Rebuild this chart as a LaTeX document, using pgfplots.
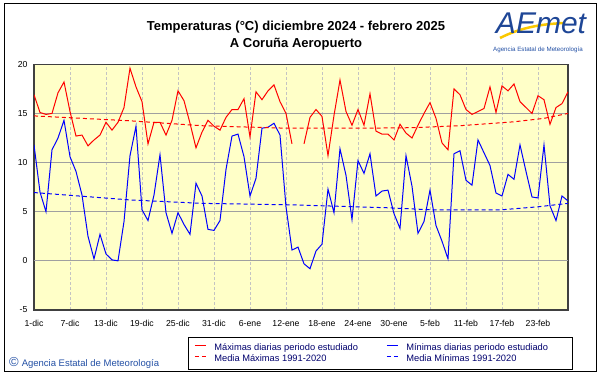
\documentclass[border=0pt]{standalone}
\usepackage{pgfplots}
\usepackage{pgfplotstable}
\pgfplotsset{compat=1.18}
\usepackage{fontspec}
\setmainfont{Liberation Sans}
\definecolor{bgy}{RGB}{255,255,200}
\definecolor{frm}{RGB}{64,64,64}
\definecolor{gridh}{RGB}{160,160,160}
\definecolor{gridv}{RGB}{195,195,195}
\definecolor{legblue}{RGB}{0,0,110}
\definecolor{cblue}{RGB}{35,80,165}
\definecolor{logoblue}{RGB}{30,70,150}
\definecolor{logoyel}{RGB}{250,200,0}

\pgfplotstableread{
d tmax tmin
0 16.9 11.8
1 15.1 7.0
2 14.9 5.0
3 15.0 11.3
4 17.1 12.5
5 18.2 14.3
6 15.2 10.6
7 12.7 9.1
8 12.8 6.7
9 11.7 2.5
10 12.3 0.2
11 12.8 2.7
12 14.1 0.7
13 13.3 0.1
14 14.1 0.0
15 15.6 4.0
16 19.6 10.7
17 17.7 13.7
18 16.2 5.2
19 11.9 4.1
20 14.1 6.7
21 14.1 10.8
22 12.8 4.9
23 14.3 2.8
24 17.3 4.9
25 16.3 3.7
26 14.0 2.7
27 11.5 7.9
28 13.1 6.6
29 14.3 3.2
30 13.7 3.1
31 13.3 4.1
32 14.6 9.3
33 15.4 12.7
34 15.4 12.9
35 16.5 10.6
36 12.6 6.6
37 17.2 8.4
38 16.4 13.5
39 17.3 13.6
40 17.9 14.0
41 16.2 12.8
42 15.0 5.5
43 11.9 1.1
44 nan 1.4
45 11.9 -0.3
46 14.6 -0.8
47 15.4 1.0
48 14.7 1.7
49 10.7 7.3
50 14.8 4.9
51 18.4 11.4
52 15.2 8.7
53 13.8 4.2
54 15.4 10.2
55 13.8 8.9
56 17.0 10.9
57 13.2 6.6
58 12.9 7.1
59 12.9 7.2
60 12.3 4.8
61 13.9 3.3
62 13.0 10.7
63 12.5 7.6
64 13.8 2.8
65 15.0 4.0
66 16.1 7.2
67 14.5 3.6
68 12.0 2.0
69 11.3 0.2
70 17.5 10.9
71 16.9 11.2
72 15.4 8.2
73 14.9 7.7
74 15.2 12.3
75 15.5 11.0
76 17.7 9.7
77 15.1 6.9
78 17.8 6.6
79 17.3 8.8
80 18.0 8.3
81 16.2 11.8
82 15.6 9.1
83 15.0 6.5
84 16.8 6.4
85 16.4 11.8
86 13.9 5.6
87 15.6 4.1
88 16.0 6.6
89 17.2 6.1
}\daily

\pgfplotstableread{
d mmax
0 14.75
16 14.25
28 13.75
42 13.5
55 13.5
63 13.55
71 13.75
80 14.15
85 14.5
89 15.0
}\meanmax

\pgfplotstableread{
d mmin
0 6.95
16 6.2
28 5.85
43 5.7
59 5.4
66 5.2
78 5.2
84 5.5
89 5.85
}\meanmin

\begin{document}
\begin{tikzpicture}[x=1pt,y=1pt]
\useasboundingbox (0,0) rectangle (601,374);
\fill[white] (0,0) rectangle (601,374);
\draw[black, line width=1pt] (4,3) rectangle (596,370);

% title
\node[font=\bfseries\fontsize{13}{17}\selectfont, align=center] at (296,338.5)
  {Temperaturas (°C) diciembre 2024 - febrero 2025\\A Coruña Aeropuerto};

% logo
\draw[logoyel, line width=2.5pt] (500,336) .. controls (520,346) and (540,350) .. (565,351);
\node[text=logoblue, font=\itshape\fontsize{30}{30}\selectfont] at (541,351) {AEmet};
\node[text=cblue, font=\fontsize{6.2}{7}\selectfont] at (538,324) {Agencia Estatal de Meteorología};

% copyright
\node[anchor=west, text=cblue, font=\fontsize{9.5}{11}\selectfont, inner sep=0pt] at (9,11)
  {{\fontsize{13}{13}\selectfont ©}\hspace{3pt}Agencia Estatal de Meteorología};

\begin{axis}[
  at={(34pt,64pt)}, anchor=south west,
  width=534pt, height=245.7pt, scale only axis,
  xmin=0, xmax=89, ymin=-5, ymax=20,
  axis background/.style={fill=bgy},
  axis line style={draw=frm, line width=1.2pt},
  major tick length=0pt,
  xtick={0,6,...,84},
  xticklabels={1-dic,7-dic,13-dic,19-dic,25-dic,31-dic,6-ene,12-ene,18-ene,24-ene,30-ene,5-feb,11-feb,17-feb,23-feb},
  ytick={-5,0,5,10,15,20},
  extra y ticks={0}, extra y tick labels={},
  extra y tick style={grid style={black, line width=1pt}},
  xmajorgrids, ymajorgrids,
  x grid style={gridv, dash pattern=on 3pt off 2pt, line width=1pt},
  y grid style={gridh, line width=1pt},
  /pgf/number format/assume math mode=true,
  ticklabel style={font=\fontsize{8.7}{10}\selectfont},
  xticklabel style={yshift=-7pt},
  yticklabel style={xshift=-3pt},
  unbounded coords=jump,
  legend columns=2,
  legend image code/.code={\draw[#1] (0pt,2.5pt) -- (11pt,2.5pt);},
  legend style={at={(axis description cs:0.2884,-0.108)}, anchor=north west,
    draw=black, line width=0.8pt, fill=white,
    inner xsep=6pt, inner ysep=6pt, row sep=1.5pt, column sep=0pt,
    font=\fontsize{9.3}{11}\selectfont, text=legblue,
    nodes={inner sep=0pt, text height=7.5pt, text depth=2pt}},
]
\addplot[red, line width=1pt] table[x=d, y=tmax] {\daily};
\addlegendentry{\makebox[180pt][l]{\hspace*{8pt}Máximas diarias periodo estudiado}}
\addplot[blue, line width=1pt] table[x=d, y=tmin] {\daily};
\addlegendentry{\makebox[168pt][l]{\hspace*{8pt}Mínimas diarias periodo estudiado}}
\addplot[red, line width=1pt, dash pattern=on 4pt off 3pt] table[x=d, y=mmax] {\meanmax};
\addlegendentry{\makebox[180pt][l]{\hspace*{8pt}Media Máximas 1991-2020}}
\addplot[blue, line width=1pt, dash pattern=on 4pt off 3pt] table[x=d, y=mmin] {\meanmin};
\addlegendentry{\makebox[168pt][l]{\hspace*{8pt}Media Mínimas 1991-2020}}
\end{axis}
\end{tikzpicture}
\end{document}
